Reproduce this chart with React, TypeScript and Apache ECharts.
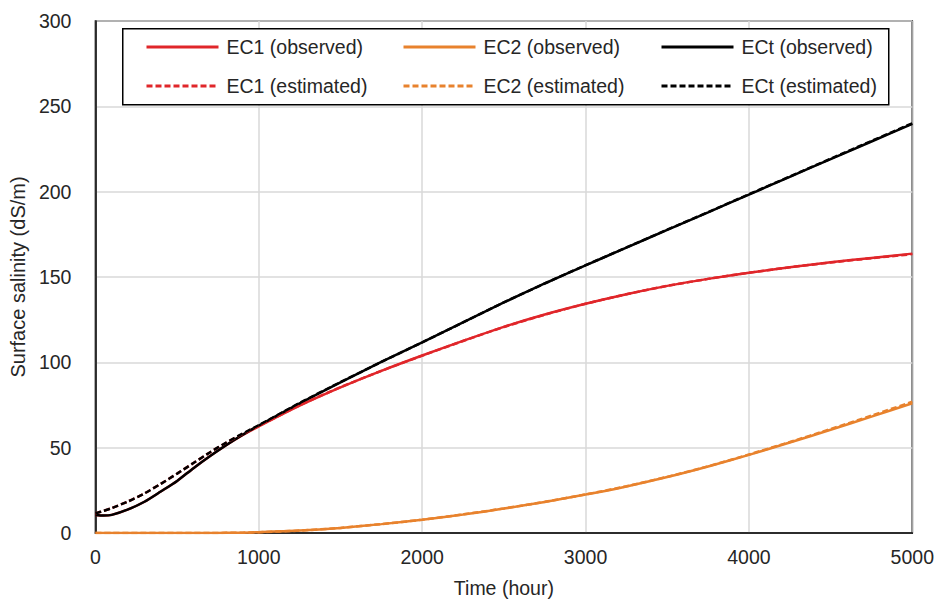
import React, { useEffect, useRef } from "react";
import * as echarts from "echarts";

const times = [0, 50, 100, 200, 300, 400, 500, 600, 700, 800, 900, 1000, 1250, 1500, 1750, 2000, 2250, 2500, 2750, 3000, 3250, 3500, 3750, 4000, 4250, 4500, 4750, 5000];

const ec1Observed = [10.5, 10.2, 10.6, 13.8, 18.3, 24.3, 30.5, 38, 45, 51.4, 57.3, 62.5, 74.6, 85.3, 95, 104, 112.6, 120.8, 128, 134.3, 139.9, 144.8, 148.9, 152.5, 155.7, 158.6, 161.2, 163.7];
const ec2Observed = [0, 0, 0, 0, 0, 0, 0, 0, 0, 0.1, 0.2, 0.5, 1.4, 3, 5.2, 7.7, 10.8, 14.3, 18.2, 22.5, 27.3, 32.8, 39, 45.8, 53, 60.5, 68.2, 76];
const ectObserved = [10.5, 10.2, 10.6, 13.8, 18.3, 24.3, 30.5, 38, 45, 51.5, 57.5, 63, 76, 88.3, 100.2, 111.7, 123.4, 135.1, 146.2, 156.8, 167.2, 177.6, 187.9, 198.3, 208.7, 219.1, 229.4, 239.7];

const ec1Estimated = [11.5, 13, 14.6, 18.5, 23.2, 28.8, 34.8, 41, 47.2, 52.9, 58, 62.7, 74.8, 85.4, 95, 103.9, 112.5, 120.7, 127.9, 134.3, 139.9, 144.8, 148.9, 152.5, 155.7, 158.5, 161, 163.4];
const ec2Estimated = [0, 0, 0, 0, 0, 0, 0, 0, 0, 0.1, 0.2, 0.5, 1.4, 3, 5.2, 7.8, 10.9, 14.4, 18.3, 22.6, 27.4, 32.9, 39.1, 46, 53.3, 60.9, 68.8, 76.9];
const ectEstimated = [11.5, 13, 14.6, 18.5, 23.2, 28.8, 34.8, 41, 47.2, 53, 58.2, 63.2, 76.2, 88.4, 100.2, 111.7, 123.4, 135.1, 146.2, 156.9, 167.3, 177.7, 188, 198.5, 208.9, 219.3, 229.7, 240.1];

const seriesNames = [
  "EC1 (observed)",
  "EC2 (observed)",
  "ECt (observed)",
  "EC1 (estimated)",
  "EC2 (estimated)",
  "ECt (estimated)",
];
const seriesColors = ["#e0262a", "#e8822d", "#000000", "#e0262a", "#e8822d", "#000000"];
const seriesValues = [ec1Observed, ec2Observed, ectObserved, ec1Estimated, ec2Estimated, ectEstimated];
const seriesDashed = [false, false, false, true, true, true];

const FONT = "'Liberation Sans', Arial, sans-serif";
const FS = 19.5;

export default function App() {
  const ref = useRef<HTMLDivElement>(null);
  useEffect(() => {
    if (!ref.current) return;
    document.body.style.margin = "0";
    const chart = echarts.init(ref.current, undefined, { renderer: "svg" });
    const legendCols = [145, 402, 660];
    const legendRows = [37, 76];
    const legends = seriesNames.map((name, i) => ({
      data: [name],
      left: legendCols[i % 3],
      top: legendRows[Math.floor(i / 3)],
      padding: 0,
      itemWidth: 72,
      itemHeight: 14,
      z: 6,
      selectedMode: false,
      itemStyle: { opacity: 0, borderWidth: 0 },
      lineStyle: { width: 3 },
      textStyle: {
        fontFamily: FONT,
        fontSize: FS,
        lineHeight: 20,
        color: "#262626",
        padding: [0, 0, 0, 3],
      },
    }));
    chart.setOption({
      animation: false,
      backgroundColor: "#ffffff",
      textStyle: { fontFamily: FONT },
      grid: {
        left: 95,
        top: 21,
        right: 22,
        bottom: 68,
        show: true,
        borderColor: "#000",
        borderWidth: 1.5,
        backgroundColor: "transparent",
      },
      legend: legends,
      graphic: [
        {
          type: "rect",
          left: 122,
          top: 28,
          z: 5,
          shape: { width: 766, height: 76 },
          style: { fill: "#fff", stroke: "#000", lineWidth: 1.5 },
        },
      ],
      xAxis: {
        type: "value",
        min: 0,
        max: 5000,
        interval: 1000,
        name: "Time (hour)",
        nameLocation: "middle",
        nameGap: 45,
        nameTextStyle: { fontFamily: FONT, fontSize: FS, color: "#262626" },
        axisLine: { show: true, lineStyle: { color: "#000", width: 1.5 } },
        axisTick: { show: false },
        axisLabel: {
          fontFamily: FONT,
          fontSize: FS,
          color: "#262626",
          margin: 14,
          formatter: (v: number) => String(v),
        },
        splitLine: { show: true, lineStyle: { color: "#d9d9d9", width: 1.5 } },
      },
      yAxis: {
        type: "value",
        min: 0,
        max: 300,
        interval: 50,
        name: "Surface salinity (dS/m)",
        nameLocation: "middle",
        nameGap: 63,
        nameTextStyle: { fontFamily: FONT, fontSize: 20, color: "#262626" },
        axisLine: { show: true, lineStyle: { color: "#000", width: 1.5 } },
        axisTick: { show: false },
        axisLabel: {
          fontFamily: FONT,
          fontSize: FS,
          color: "#262626",
          margin: 24,
          formatter: (v: number) => String(v),
        },
        splitLine: { show: true, lineStyle: { color: "#d9d9d9", width: 1.5 } },
      },
      series: seriesNames.map((name, i) => ({
        name,
        type: "line",
        data: times.map((t, j) => [t, seriesValues[i][j]]),
        smooth: 0.25,
        symbol: "none",
        showSymbol: false,
        color: seriesColors[i],
        z: seriesDashed[i] ? 3 : 2,
        lineStyle: {
          color: seriesColors[i],
          width: 2.5,
          type: seriesDashed[i] ? [6, 3] : "solid",
        },
      })),
    });
    return () => chart.dispose();
  }, []);
  return <div ref={ref} style={{ width: 937, height: 603 }} />;
}
